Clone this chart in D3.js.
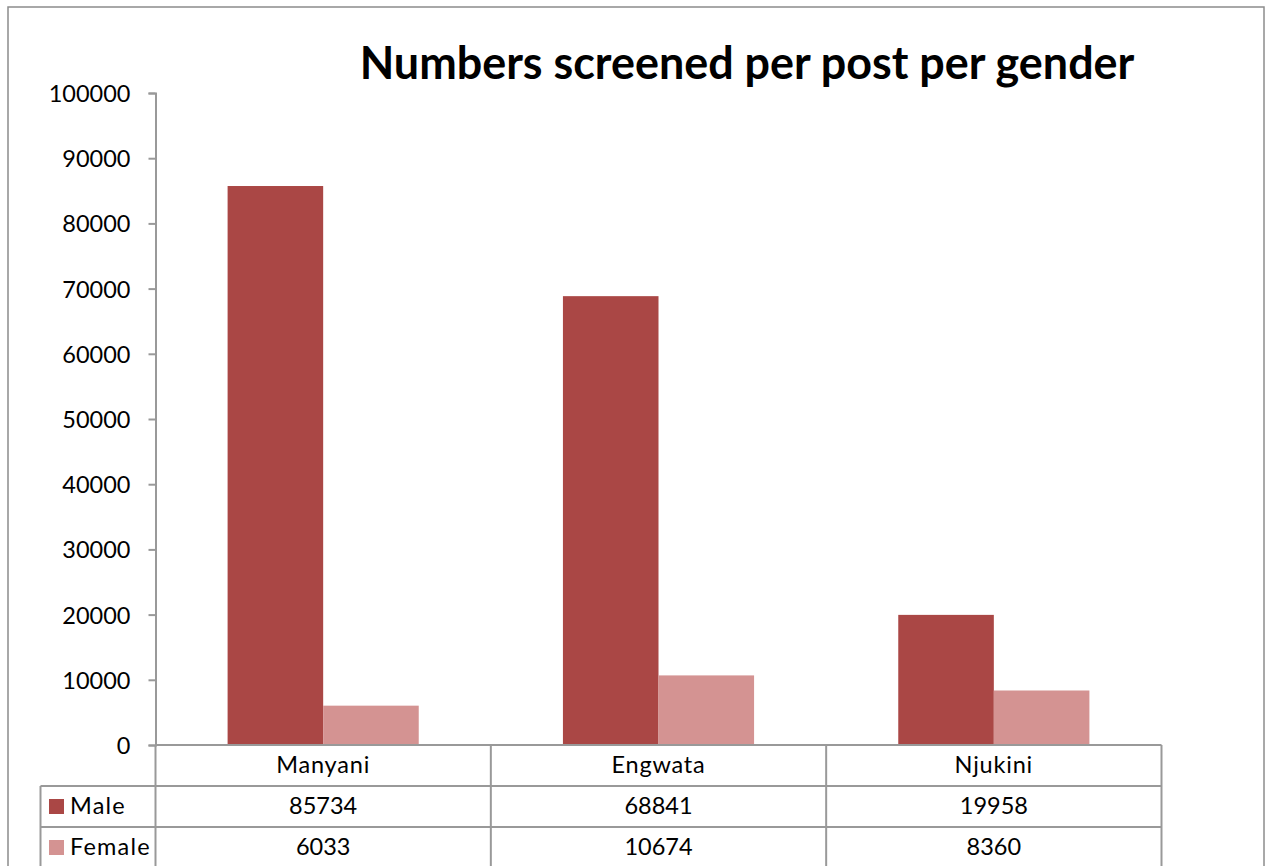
<!DOCTYPE html>
<html>
<head>
<meta charset="utf-8">
<script src="https://cdn.jsdelivr.net/npm/d3@7"></script>
<style>
  html, body { margin: 0; padding: 0; background: #fff; }
  svg { display: block; font-family: Lato, "Open Sans", sans-serif; }
</style>
</head>
<body>
<script>
// data
const categories = ["Manyani", "Engwata", "Njukini"];
const male = [85734, 68841, 19958];
const female = [6033, 10674, 8360];
const seriesNames = ["Male", "Female"];
const seriesColors = ["#aa4745", "#d49392"];
const yTicks = [0, 10000, 20000, 30000, 40000, 50000, 60000, 70000, 80000, 90000, 100000];

const title = "Numbers screened per post per gender";

// layout
const w = 1266, h = 866;
const plotLeft = 155.5, plotRight = 1161.5, plotTop = 93, plotBottom = 745;
const rowH = 41;
const legendLeft = 40.5;
const gridColor = "#999";
const fs = 23.5;

const svg = d3.select("body").append("svg").attr("width", w).attr("height", h);

// outer frame
svg.append("rect")
  .attr("x", 8).attr("y", 7)
  .attr("width", 1256).attr("height", 880)
  .attr("fill", "none").attr("stroke", "#8c8c8c").attr("stroke-width", 1.5);

// title, sized to match the original width
const t = svg.append("text")
  .attr("x", 747).attr("y", 79)
  .attr("text-anchor", "middle")
  .attr("font-weight", "bold")
  .attr("font-size", 40)
  .attr("fill", "#000")
  .text(title);
const tw = t.node().getComputedTextLength();
t.attr("font-size", 40 * 775 / tw);

// scales
const x = d3.scaleBand().domain(categories).range([plotLeft, plotRight]);
const y = d3.scaleLinear().domain([0, 100000]).range([plotBottom, plotTop]);
const barW = x.bandwidth() * 0.285;

// y axis
const yAxis = d3.axisLeft(y).tickValues(yTicks).tickSize(7).tickPadding(18).tickFormat(d3.format("d"));
const ga = svg.append("g").attr("transform", `translate(${plotLeft},0)`).call(yAxis);
ga.select(".domain").attr("stroke", gridColor).attr("stroke-width", 2);
ga.selectAll(".tick line").attr("stroke", gridColor).attr("stroke-width", 2);
ga.selectAll(".tick text").attr("font-size", fs).attr("fill", "#000")
  .attr("font-family", "Lato, sans-serif").attr("dy", "0.36em");

// bars
const rows = categories.map((c, i) => ({ cat: c, values: [male[i], female[i]] }));
const groups = svg.selectAll(".grp").data(rows).enter().append("g")
  .attr("transform", (d) => `translate(${x(d.cat) + x.bandwidth() / 2 - barW},0)`);
groups.selectAll("rect").data((d) => d.values).enter().append("rect")
  .attr("x", (d, j) => j * barW)
  .attr("y", (d) => y(d))
  .attr("width", barW)
  .attr("height", (d) => plotBottom - y(d))
  .attr("fill", (d, j) => seriesColors[j]);

// data table
const grid = svg.append("g").attr("stroke", gridColor).attr("stroke-width", 2).attr("fill", "none");
// horizontal lines
grid.append("line").attr("x1", plotLeft).attr("x2", plotRight).attr("y1", plotBottom).attr("y2", plotBottom);
[1, 2, 3].forEach((k) => {
  grid.append("line").attr("x1", legendLeft).attr("x2", plotRight)
    .attr("y1", plotBottom + k * rowH).attr("y2", plotBottom + k * rowH);
});
// vertical lines
categories.map((c) => x(c)).concat([plotRight]).forEach((xx) => {
  grid.append("line").attr("x1", xx).attr("x2", xx).attr("y1", plotBottom).attr("y2", h + 5);
});
grid.append("line").attr("x1", legendLeft).attr("x2", legendLeft)
  .attr("y1", plotBottom + rowH).attr("y2", h + 5);

// category row
svg.selectAll(".cat").data(categories).enter().append("text")
  .attr("x", (d) => x(d) + x.bandwidth() / 2)
  .attr("y", plotBottom + 28)
  .attr("text-anchor", "middle").attr("font-size", fs)
  .attr("letter-spacing", 0.8)
  .text((d) => d);

// value rows
[male, female].forEach((vals, r) => {
  const yy = plotBottom + rowH * (r + 1) + 28;
  svg.append("rect")
    .attr("x", 49).attr("y", plotBottom + rowH * (r + 1) + 13)
    .attr("width", 15).attr("height", 15)
    .attr("fill", seriesColors[r]);
  svg.append("text")
    .attr("x", 70).attr("y", yy)
    .attr("font-size", fs)
    .attr("letter-spacing", 1.2)
    .text(seriesNames[r]);
  svg.selectAll(".v" + r).data(vals).enter().append("text")
    .attr("x", (d, i) => x(categories[i]) + x.bandwidth() / 2)
    .attr("y", yy)
    .attr("text-anchor", "middle").attr("font-size", fs)
    .text((d) => d);
});
</script>
</body>
</html>
